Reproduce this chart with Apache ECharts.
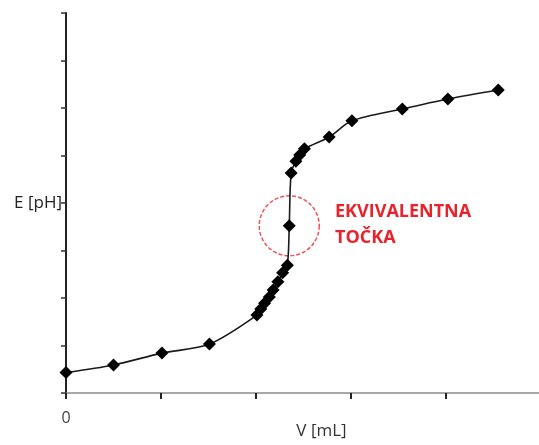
<!DOCTYPE html>
<html>
<head>
<meta charset="utf-8">
<script src="https://cdn.jsdelivr.net/npm/echarts@6/dist/echarts.min.js"></script>
<style>
  html, body { margin: 0; padding: 0; background: #fff; }
  #chart { width: 539px; height: 445px; }
</style>
</head>
<body>
<div id="chart"></div>
<script>
// Titration curve: added volume vs. measured pH
const volume = [0, 0.50, 1.01, 1.51, 2.01, 2.05, 2.09, 2.14, 2.18, 2.23, 2.28, 2.33,
                2.35, 2.37, 2.42, 2.46, 2.51, 2.77, 3.01, 3.54, 4.02, 4.55];
const ph =     [0.43, 0.59, 0.84, 1.03, 1.64, 1.77, 1.89, 2.02, 2.17, 2.34, 2.53, 2.69,
                3.52, 4.63, 4.88, 5.01, 5.14, 5.39, 5.73, 5.98, 6.19, 6.38];
// Equivalence point (highlighted)
const equivalence = [2.35, 3.52];
const equivalenceLabel = ['EKVIVALENTNA', 'TOČKA'];

const chart = echarts.init(document.getElementById('chart'));
chart.setOption({
  backgroundColor: '#fff',
  animation: false,
  grid: { left: 66, top: 13, width: 475, height: 380, containLabel: false, outerBoundsMode: 'none' },
  xAxis: {
    type: 'value', min: 0, max: 5, interval: 1,
    name: 'V [mL]', nameLocation: 'middle', nameGap: 30, nameMoveOverlap: false,
    nameTextStyle: { color: '#333', fontSize: 17, fontFamily: 'Open Sans', padding: [0, 0, 0, 36] },
    axisLine: { show: true, lineStyle: { color: '#8a8a8a', width: 1.5 } },
    axisTick: { show: true, inside: false, length: 6, lineStyle: { color: '#222', width: 2 } },
    axisLabel: {
      formatter: v => (v === 0 ? '0' : ''),
      color: '#444', fontSize: 16, fontFamily: 'Open Sans', margin: 17
    },
    splitLine: { show: false }
  },
  yAxis: {
    type: 'value', min: 0, max: 8, interval: 1,
    name: 'E [pH]', nameLocation: 'middle', nameRotate: 0, nameGap: 4, nameMoveOverlap: false,
    nameTextStyle: { color: '#222', fontSize: 17, fontFamily: 'Open Sans', align: 'right', verticalAlign: 'middle' },
    axisLine: { show: true, lineStyle: { color: '#222', width: 2 } },
    axisTick: { show: true, inside: false, length: 5, lineStyle: { color: '#333', width: 1.5 } },
    axisLabel: { show: false },
    splitLine: { show: false }
  },
  graphic: [
    {
      type: 'text', left: 335, top: 203,
      style: { text: equivalenceLabel[0], fill: '#e8232b', font: 'bold 18px "Open Sans"' }
    },
    {
      type: 'text', left: 335, top: 229,
      style: { text: equivalenceLabel[1], fill: '#e8232b', font: 'bold 18px "Open Sans"' }
    }
  ],
  series: [
    {
      type: 'scatter',
      data: [equivalence],
      symbol: 'circle', symbolSize: 60,
      itemStyle: { color: 'rgba(0,0,0,0)', borderColor: '#e32a30', borderWidth: 1.5, borderType: [4, 2] },
      silent: true, z: 1
    },
    {
      type: 'line',
      data: volume.map((v, i) => [v, ph[i]]),
      smooth: 0.3,
      symbol: 'diamond', symbolSize: 13,
      lineStyle: { color: '#1a1a1a', width: 1.6 },
      itemStyle: { color: '#000' },
      z: 3
    }
  ]
});
</script>
</body>
</html>
